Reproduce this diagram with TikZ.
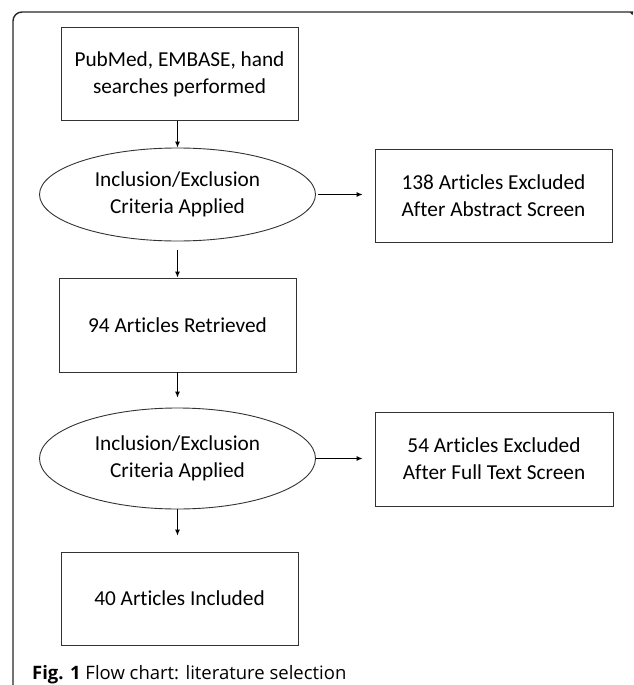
\documentclass[tikz,border=0pt]{standalone}
\usepackage{fontspec}
\setmainfont[Ligatures=NoCommon]{Carlito}
\newfontfamily\capfont{Open Sans}
\usetikzlibrary{shapes.geometric,arrows.meta}
\begin{document}
\begin{tikzpicture}[x=1pt,y=-1pt,
  boxnode/.style={draw=black!80,line width=0.9pt,rectangle,inner sep=0pt,minimum width=237pt,minimum height=93pt,align=center,font=\fontsize{21.3}{27}\selectfont},
  ellnode/.style={draw=black!80,line width=0.9pt,ellipse,inner sep=0pt,minimum width=276pt,minimum height=93pt,align=center,font=\fontsize{21.3}{27}\selectfont},
  arr/.style={draw=black,line width=0.9pt,-{Latex[length=6pt,width=5pt]}}]
\useasboundingbox (0,0) rectangle (633,685);
\begin{scope}
\clip (0,0) rectangle (633,685);
\draw[black!85,line width=1.4pt,rounded corners=9pt] (13,700) -- (13,12) -- (627,12) arc[start angle=90,end angle=45,radius=8pt];
\end{scope}
\node[boxnode] (b1) at (179.5,74) {PubMed, EMBASE, hand\\searches performed};
\node[ellnode] (e1) at (177.5,194.5) {Inclusion/Exclusion\\Criteria Applied};
\node[boxnode] (b2) at (493.5,195.5) {138 Articles Excluded\\After Abstract Screen};
\node[boxnode,minimum height=94pt] (b3) at (177.5,325) {94 Articles Retrieved};
\node[ellnode,minimum height=101pt] (e2) at (177.5,458.5) {Inclusion/Exclusion\\Criteria Applied};
\node[boxnode,minimum width=238pt,minimum height=94pt] (b4) at (494,459) {54 Articles Excluded\\After Full Text Screen};
\node[boxnode] (b5) at (179.5,598.5) {40 Articles Included};
\draw[arr] (b1.south -| e1) -- (e1.north);
\draw[arr,shorten <=9pt] (e1.south) -- (b3.north);
\draw[arr,shorten >=10pt] (b3.south) -- (e2.north);
\draw[arr,shorten >=16pt] (e2.south) -- (e2.south |- b5.north);
\draw[arr,shorten <=2pt,shorten >=12pt] (e1.east) -- (e1.east -| b2.west);
\draw[arr,shorten >=12pt] (e2.east) -- (e2.east -| b4.west);
\node[anchor=base west,inner sep=0pt,font=\capfont\fontsize{18.5}{22}\selectfont] (cap) at (32,679) {\textbf{Fig. 1} Flow chart: literature selection};
\end{tikzpicture}
\end{document}
